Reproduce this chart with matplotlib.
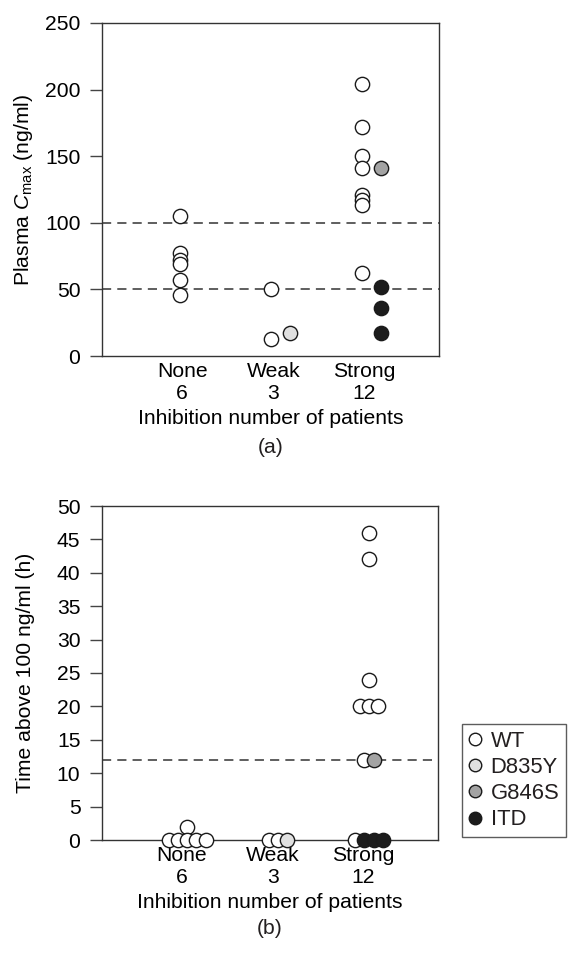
import matplotlib
matplotlib.use("Agg")
import matplotlib.pyplot as plt
from matplotlib.lines import Line2D
import numpy as np

plt.rcParams["font.family"] = ["Liberation Sans", "DejaVu Sans"]
plt.rcParams["mathtext.fontset"] = "custom"
plt.rcParams["mathtext.rm"] = "Liberation Sans"
plt.rcParams["mathtext.it"] = "Liberation Sans:italic"
plt.rcParams["text.color"] = "#231f20"
FS = 15.2

CATEGORIES = ["None", "Weak", "Strong"]
N_PATIENTS = [6, 3, 12]
GENOTYPES = ["WT", "D835Y", "G846S", "ITD"]
GENO_COLORS = {"WT": "white", "D835Y": "#e0e0e0", "G846S": "#a3a3a3", "ITD": "#1c1c1c"}

# panel (a): plasma Cmax (ng/ml)
A_CATEGORY = ["None"] * 6 + ["Weak"] * 3 + ["Strong"] * 12
A_GENOTYPE = (["WT"] * 6
              + ["WT", "WT", "D835Y"]
              + ["WT"] * 8 + ["G846S"] + ["ITD"] * 3)
A_VALUE = [105, 77, 72, 69, 57, 46,
           50, 13, 17,
           204, 172, 150, 141, 121, 117, 113, 62, 141, 52, 36, 17]
A_REFLINES = [50, 100]

# panel (b): time above 100 ng/ml (h)
B_CATEGORY = ["None"] * 6 + ["Weak"] * 3 + ["Strong"] * 12
B_GENOTYPE = (["WT"] * 6
              + ["WT", "WT", "D835Y"]
              + ["WT"] * 8 + ["G846S"] + ["ITD"] * 3)
B_VALUE = [2, 0, 0, 0, 0, 0,
           0, 0, 0,
           46, 42, 24, 20, 20, 20, 12, 0, 12, 0, 0, 0]
B_REFLINES = [12]

W, H = 571, 958
fig = plt.figure(figsize=(W / 100, H / 100), dpi=100)


def fbox(l, r, t, b):
    return [l / W, 1 - b / H, (r - l) / W, (b - t) / H]


def style_axes(ax, ylim, yticks):
    ax.set_xlim(0.12, 3.82)
    ax.set_ylim(*ylim)
    ax.set_yticks(yticks)
    ax.set_xticks([1, 2, 3])
    ax.set_xticklabels([f"{c}\n{n}" for c, n in zip(CATEGORIES, N_PATIENTS)],
                       linespacing=1.2)
    for s in ax.spines.values():
        s.set_linewidth(1.0)
        s.set_color("#333333")
    ax.tick_params(axis="y", direction="out", length=8.5, width=1.0,
                   color="#444444", pad=7, labelsize=FS)
    ax.tick_params(axis="x", length=0, pad=4, labelsize=FS)
    ax.set_xlabel("Inhibition number of patients", fontsize=FS, labelpad=5)


def draw_points(ax, xs, genos, vals):
    for x, g, v in zip(xs, genos, vals):
        ax.plot(x, v, "o", ms=10.3, mfc=GENO_COLORS[g], mec="#1a1a1a",
                mew=1.0, clip_on=False, zorder=5)


# ---- panel (a) ----
ax1 = fig.add_axes(fbox(102, 439, 23, 356))
for y in A_REFLINES:
    ax1.axhline(y, color="#333333", lw=1.1, ls=(0, (6, 4)), zorder=1)
xa = [CATEGORIES.index(c) + 1 + (0.0 if g == "WT" else 0.2) - 0.02
      for c, g in zip(A_CATEGORY, A_GENOTYPE)]
draw_points(ax1, xa, A_GENOTYPE, A_VALUE)
style_axes(ax1, (0, 250), np.arange(0, 251, 50))
ax1.set_ylabel(r"Plasma $\mathit{C}_{\mathrm{max}}$ (ng/ml)", fontsize=FS)
ax1.yaxis.set_label_coords(-0.2, 0.5)
fig.text(0.5 * (102 + 439) / W, 1 - 447 / H, "(a)", ha="center", va="center",
         fontsize=FS)

# ---- panel (b) ----
ax2 = fig.add_axes(fbox(102, 438, 506, 840))
for y in B_REFLINES:
    ax2.axhline(y, color="#333333", lw=1.1, ls=(0, (6, 4)), zorder=1)

# dodge tied values side by side
step, shift = 0.1, 0.06
xb = [0.0] * len(B_VALUE)
for ci, c in enumerate(CATEGORIES):
    idx = [i for i, cc in enumerate(B_CATEGORY) if cc == c]
    for v in sorted(set(B_VALUE[i] for i in idx)):
        grp = [i for i in idx if B_VALUE[i] == v]
        grp.sort(key=lambda i: GENOTYPES.index(B_GENOTYPE[i]))
        n = len(grp)
        for k, i in enumerate(grp):
            xb[i] = ci + 1 + shift + (k - (n - 1) / 2) * step
order = sorted(range(len(xb)), key=lambda i: xb[i])
draw_points(ax2, [xb[i] for i in order], [B_GENOTYPE[i] for i in order],
            [B_VALUE[i] for i in order])
style_axes(ax2, (0, 50), np.arange(0, 51, 5))
ax2.set_ylabel("Time above 100 ng/ml (h)", fontsize=FS)
ax2.yaxis.set_label_coords(-0.2, 0.5)
fig.text(0.5 * (102 + 438) / W, 1 - 928 / H, "(b)", ha="center", va="center",
         fontsize=FS)

handles = [Line2D([], [], ls="none", marker="o", ms=9, mfc=GENO_COLORS[g],
                  mec="#1a1a1a", mew=1.0, label=g) for g in GENOTYPES]
leg = fig.legend(handles=handles, loc="upper left",
                 bbox_to_anchor=(462 / W, 1 - 724 / H), frameon=True,
                 fancybox=False, edgecolor="#333333", fontsize=15.8,
                 handlelength=0.6, handletextpad=0.4, borderpad=0.3,
                 labelspacing=0.24, borderaxespad=0)
leg.get_frame().set_linewidth(1.0)

fig.savefig("out.png", dpi=100)
